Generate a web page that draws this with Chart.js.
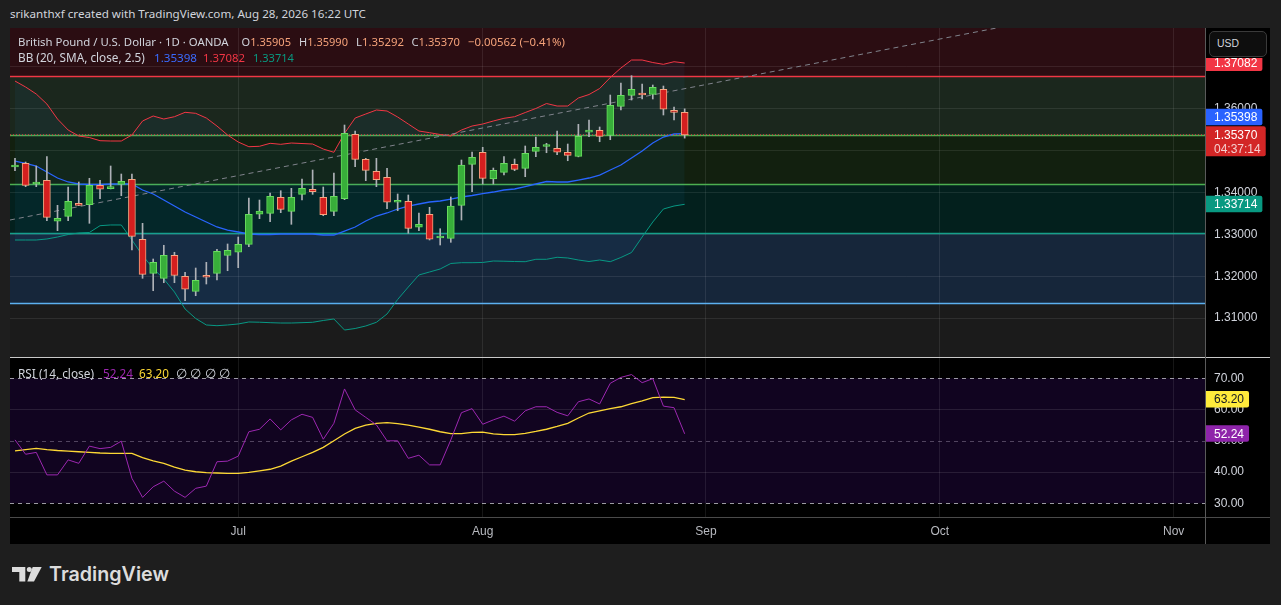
<!DOCTYPE html>
<html><head><meta charset="utf-8">
<script src="https://cdn.jsdelivr.net/npm/chart.js@4.4.1/dist/chart.umd.min.js"></script>
<style>
html,body{margin:0;padding:0;background:#1e1e1e;width:1281px;height:605px;overflow:hidden;}
#frame{position:absolute;left:10px;top:28px;width:1260px;height:516px;background:#000;}
canvas{position:absolute;}
.t{position:absolute;white-space:nowrap;line-height:1;font-family:'Noto Sans',sans-serif;color:#d1d4dc;}
.ln{position:absolute;}
</style></head><body>
<div id="frame"></div>
<canvas id="pc" width="1260" height="330" style="left:10px;top:28px;width:1260px;height:330px"></canvas>
<canvas id="rc" width="1260" height="186" style="left:10px;top:358px;width:1260px;height:186px"></canvas>
<div class="ln" style="left:10px;top:357px;width:1260px;height:1px;background:#c9c9c9"></div>
<div class="ln" style="left:10px;top:517px;width:1260px;height:1px;background:#4a4a4a"></div>
<div class="ln" style="left:1205px;top:28px;width:1px;height:516px;background:#5a5a5a"></div>
<div class="ln" style="left:1206px;top:28px;width:64px;height:30px;background:#000"></div>
<div class="ln" style="left:1209px;top:31px;width:56px;height:24px;border:1px solid #3a3a3a;border-radius:5px;background:#0e0e0e"></div>
<div class="t" data-l="1217" data-cy="44" data-w="22" style="color:#d1d4dc;font-family:'Liberation Sans',sans-serif">USD</div>

<div class="t" data-l="10" data-cy="14" data-w="356">srikanthxf created with TradingView.com, Aug 28, 2026 16:22 UTC</div>
<div class="t" data-l="18" data-cy="42" data-w="211">British Pound / U.S. Dollar · 1D · OANDA</div>
<div class="t" data-l="241.5" data-cy="42" data-w="49.5">O<span style="color:#f5a27a">1.35905</span></div>
<div class="t" data-l="299" data-cy="42" data-w="49">H<span style="color:#f5a27a">1.35990</span></div>
<div class="t" data-l="356" data-cy="42" data-w="48">L<span style="color:#f5a27a">1.35292</span></div>
<div class="t" data-l="411.5" data-cy="42" data-w="48.5">C<span style="color:#f5a27a">1.35370</span></div>
<div class="t" data-l="468" data-cy="42" data-w="97" style="color:#f5a27a">−0.00562 (−0.41%)</div>
<div class="t" data-l="18" data-cy="58" data-w="127">BB (20, SMA, close, 2.5)</div>
<div class="t" data-l="154" data-cy="58" data-w="43" style="color:#3a6bff">1.35398</div>
<div class="t" data-l="203" data-cy="58" data-w="42" style="color:#f23645">1.37082</div>
<div class="t" data-l="253" data-cy="58" data-w="41" style="color:#089981">1.33714</div>
<div class="t" data-l="18" data-cy="374" data-w="76">RSI (14, close)</div>
<div class="t" data-l="103" data-cy="374" data-w="30" style="color:#9c27b0">52.24</div>
<div class="t" data-l="139" data-cy="374" data-w="30" style="color:#fdd835">63.20</div>
<div class="t" data-l="176" data-cy="374" data-w="53">∅ ∅ ∅ ∅</div>

<svg style="position:absolute;left:12px;top:567px" width="30" height="15" viewBox="0 0 30 15">
<path d="M0 0H13.3V14.4H7.3V5H0Z" fill="#dcdcdc"/>
<circle cx="17.3" cy="2.6" r="2.5" fill="#dcdcdc"/>
<path d="M20.7 0H29.7L22 14.4H15.3Z" fill="#dcdcdc"/>
</svg>
<div class="t" data-l="49" data-cy="575" data-w="120" data-fs="20" style="font-family:Inter,sans-serif;font-weight:600;color:#dcdcdc">TradingView</div>

<script>
// ---------------- DATA ----------------
const openP  = [1.34603,1.34691,1.34198,1.34286,1.33309,1.33428,1.33738,1.33704,1.34167,1.34086,
1.34191,1.34310,1.32880,1.32069,1.31950,1.32498,1.31998,1.31640,1.32005,1.32069,
1.32498,1.32570,1.32760,1.33476,1.33499,1.33881,1.33547,1.33952,1.34072,1.33881,
1.33547,1.33847,1.35383,1.34787,1.34501,1.34358,1.33762,1.33785,1.33166,1.33476,
1.32911,1.32903,1.33690,1.34667,1.34954,1.34317,1.34477,1.34667,1.34572,1.34977,
1.35092,1.35049,1.34954,1.34858,1.35433,1.35478,1.35359,1.36050,1.36312,1.36331,
1.36336,1.36455,1.35915,1.35905];
const highP  = [1.34810,1.34722,1.34627,1.34849,1.33690,1.34126,1.34246,1.34334,1.34286,1.34627,
1.34436,1.34436,1.33261,1.32410,1.32737,1.32570,1.32093,1.32195,1.32331,1.32641,
1.32768,1.32934,1.33864,1.33816,1.33983,1.34038,1.34095,1.34317,1.34532,1.34126,
1.34460,1.35604,1.35461,1.34810,1.34810,1.34572,1.33960,1.33936,1.33507,1.33642,
1.33132,1.33888,1.34770,1.34961,1.35073,1.34579,1.34849,1.34794,1.35104,1.35318,
1.35168,1.35461,1.35151,1.35621,1.35723,1.35557,1.36319,1.36605,1.36780,1.36582,
1.36558,1.36534,1.36033,1.35990];
const lowP   = [1.34515,1.34134,1.34134,1.33323,1.33085,1.33323,1.33681,1.33261,1.33847,1.34080,
1.33919,1.32625,1.31950,1.31654,1.31845,1.31845,1.31416,1.31535,1.31814,1.31909,
1.32131,1.32203,1.32703,1.33371,1.33299,1.33514,1.33237,1.33816,1.33952,1.33442,
1.33442,1.33824,1.34610,1.34277,1.34134,1.33609,1.33561,1.33023,1.33085,1.32863,
1.32744,1.32808,1.33340,1.34014,1.34198,1.34198,1.34412,1.34515,1.34372,1.34849,
1.34944,1.34896,1.34753,1.34845,1.35325,1.35206,1.35254,1.35962,1.36200,1.36224,
1.36224,1.35843,1.35723,1.35292];
const closeP = [1.34651,1.34167,1.34246,1.33404,1.33380,1.33785,1.33690,1.34167,1.34072,1.34100,
1.34262,1.32951,1.32045,1.32331,1.32498,1.32021,1.31688,1.31902,1.31974,1.32594,
1.32617,1.32760,1.33476,1.33554,1.33905,1.33595,1.33881,1.34095,1.34014,1.33466,
1.33905,1.35406,1.34787,1.34524,1.34300,1.33762,1.33770,1.33142,1.33237,1.32880,
1.32916,1.33673,1.34651,1.34834,1.34334,1.34524,1.34691,1.34548,1.34930,1.35073,
1.35098,1.34954,1.34882,1.35335,1.35440,1.35335,1.36074,1.36312,1.36455,1.36319,
1.36503,1.35979,1.35905,1.35370];
const bbUpper = [1.36653,1.36510,1.36343,1.36105,1.35747,1.35485,1.35342,1.35306,1.35230,1.35223,
1.35223,1.35366,1.35700,1.35819,1.35747,1.35802,1.35907,1.35883,1.35771,1.35580,
1.35366,1.35199,1.35087,1.35097,1.35168,1.35144,1.35175,1.35163,1.35151,1.35032,
1.34954,1.35406,1.35771,1.35867,1.35962,1.35938,1.35795,1.35628,1.35461,1.35421,
1.35378,1.35342,1.35485,1.35580,1.35628,1.35700,1.35764,1.35802,1.35902,1.35998,
1.36117,1.36057,1.36057,1.36248,1.36331,1.36474,1.36737,1.36963,1.37154,1.37154,
1.37094,1.37051,1.37113,1.37082];
const bbMiddle = [1.34746,1.34687,1.34627,1.34484,1.34341,1.34246,1.34198,1.34186,1.34186,1.34198,
1.34198,1.34198,1.34055,1.33960,1.33816,1.33673,1.33530,1.33411,1.33292,1.33173,
1.33101,1.33054,1.33006,1.32994,1.32994,1.33006,1.33006,1.33006,1.33006,1.32982,
1.32982,1.33077,1.33173,1.33316,1.33435,1.33507,1.33602,1.33673,1.33721,1.33769,
1.33793,1.33840,1.33888,1.33924,1.33971,1.34007,1.34055,1.34079,1.34138,1.34198,
1.34257,1.34246,1.34246,1.34293,1.34341,1.34412,1.34532,1.34651,1.34818,1.34984,
1.35175,1.35318,1.35390,1.35398];
const bbLower = [1.32863,1.32863,1.32863,1.32887,1.32934,1.32994,1.33030,1.33042,1.33204,1.33221,
1.33221,1.32863,1.32493,1.32184,1.31933,1.31623,1.31218,1.30992,1.30837,1.30820,
1.30837,1.30861,1.30908,1.30903,1.30892,1.30884,1.30884,1.30892,1.30901,1.30944,
1.30980,1.30717,1.30753,1.30813,1.30901,1.31099,1.31445,1.31742,1.32029,1.32100,
1.32172,1.32303,1.32322,1.32322,1.32327,1.32362,1.32357,1.32350,1.32346,1.32403,
1.32403,1.32451,1.32434,1.32386,1.32350,1.32386,1.32346,1.32446,1.32565,1.32934,
1.33292,1.33602,1.33673,1.33714];
const rsiVals = [50.3,45.7,46.3,39.1,39.1,43.9,42.8,48.3,47.5,47.9,
49.9,38.0,31.9,35.3,37.1,33.9,31.9,34.8,35.5,43.3,
43.5,45.1,52.9,53.7,57.0,53.5,56.7,58.5,57.5,50.5,
55.6,66.6,59.9,57.5,55.1,50.0,50.0,44.4,45.4,42.3,
42.3,50.3,59.0,60.3,55.3,56.7,57.9,56.3,59.6,60.9,
60.9,59.1,58.0,62.5,63.4,61.8,68.4,70.3,71.2,68.6,
69.9,61.1,60.6,52.24];
const rsiMa = [46.8,47.2,47.6,47.2,46.9,46.7,46.5,46.3,46.1,46.0,
46.0,46.0,44.6,43.6,42.8,41.6,40.6,40.1,39.8,39.7,
39.6,39.6,39.9,40.4,40.9,41.9,43.5,44.9,46.3,47.9,
50.0,52.2,54.0,55.0,55.6,55.8,55.5,55.0,54.4,53.7,
52.9,52.3,52.3,52.7,52.8,52.2,52.0,52.0,52.4,53.0,
53.7,54.6,55.6,57.3,58.9,59.6,60.3,60.9,61.9,62.8,
63.8,64.0,63.9,63.2];
const priceTicks = [1.31,1.32,1.33,1.34,1.35,1.36,1.37];
const rsiTicks = [30,40,50,60,70];
const rsiLevels = [70,50,30];
const monthTickIdx = [21,44,65,87,109];
const monthLabels = ['Jul','Aug','Sep','Oct','Nov'];
const trendIdx = [-0.47,92.66];
const trendPrice = [1.33340,1.37933];
const lastClose = 1.35370;
const countdown = '04:37:14';
const zoneLevels = [1.3678,1.3536,1.3419,1.3302,1.3135];

// ---------------- STYLE ----------------
const X_MIN=-0.47, X_MAX=111.95, P_MIN=1.30050, P_MAX=1.37917, R_MIN=25.62, R_MAX=76.5;
const zoneFills = ['#2b0d12','#1b271d','#12200f','#03201d','#16263a','#1b1b1b'];
const zoneLineColors = ['#f23645','#4caf50','#4caf50','#16a08a','#5cb0f0'];
const UP_FILL='#38ae3a', UP_BORDER='#68dc5e', DN_FILL='#d41f1f', DN_BORDER='#f7a580', WICK='#aeb1b7';
const GRID='rgba(255,255,255,0.085)';
const AXIS_FONT="'Liberation Sans', Arial, sans-serif";
Chart.defaults.font.family = AXIS_FONT;

// text fitting
document.querySelectorAll('.t').forEach(el=>{
  const fs0 = +(el.dataset.fs||12);
  el.style.fontSize = fs0+'px';
  const w = el.getBoundingClientRect().width;
  const fs = fs0*(+el.dataset.w)/w;
  el.style.fontSize = fs+'px';
  el.style.left = el.dataset.l+'px';
  el.style.top = (+el.dataset.cy - fs*0.52)+'px';
});

const idx = openP.map((_,i)=>i);
const up = idx.map(i=>closeP[i]>=openP[i]);
const pts = arr => arr.map((v,i)=>({x:i,y:v}));

function zeroPad(s){ s.paddingLeft=0; s.paddingRight=0; s.paddingTop=0; s.paddingBottom=0; }

function badge(ctx, a, yc, bg, text, fg, extra){
  ctx.save();
  ctx.font = '12px '+AXIS_FONT;
  const lines = [text].concat(extra? [extra]:[]);
  const w = Math.max(...lines.map(l=>ctx.measureText(l).width)) + 13;
  const top = yc - 8.5, h = extra ? 30 : 16.5;
  ctx.fillStyle = bg;
  ctx.beginPath();
  if (ctx.roundRect) ctx.roundRect(a.right+1, top, w, h, [0,2,2,0]); else ctx.rect(a.right+1, top, w, h);
  ctx.fill();
  ctx.textBaseline = 'middle';
  ctx.fillStyle = fg;
  ctx.fillText(text, a.right+9, yc+0.5);
  if (extra){ ctx.fillStyle = 'rgba(255,255,255,0.78)'; ctx.fillText(extra, a.right+9, yc+15); }
  ctx.restore();
  return {top, bottom: top+h};
}

const pricePlugin = {
  id:'pz',
  beforeDraw(c){
    const {ctx, chartArea:a, scales:{y}} = c;
    const b = [P_MAX, ...zoneLevels, P_MIN];
    ctx.save();
    for (let k=0;k<zoneFills.length;k++){
      const y0 = y.getPixelForValue(b[k]), y1 = y.getPixelForValue(b[k+1]);
      ctx.fillStyle = zoneFills[k];
      ctx.fillRect(a.left, y0, a.right-a.left, y1-y0);
    }
    ctx.restore();
  },
  beforeDatasetsDraw(c){
    const {ctx, chartArea:a, scales:{y}} = c;
    ctx.save();
    ctx.lineWidth = 1.3;
    zoneLevels.forEach((v,k)=>{
      const py = Math.round(y.getPixelForValue(v))+0.5;
      ctx.strokeStyle = zoneLineColors[k];
      ctx.beginPath(); ctx.moveTo(a.left, py); ctx.lineTo(a.right, py); ctx.stroke();
    });
    ctx.restore();
  },
  afterDraw(c){
    const {ctx, chartArea:a, scales:{y}} = c;
    const n = closeP.length-1;
    badge(ctx, a, y.getPixelForValue(bbUpper[n]), '#f23645', bbUpper[n].toFixed(5), '#fff');
    const red = badge(ctx, a, y.getPixelForValue(lastClose), '#d32626', lastClose.toFixed(5), '#fff', countdown);
    badge(ctx, a, red.top - 1 - 8, '#2962ff', bbMiddle[n].toFixed(5), '#fff');
    badge(ctx, a, y.getPixelForValue(bbLower[n]), '#089981', bbLower[n].toFixed(5), '#fff');
  }
};

const BBFILL = 'rgba(33,150,243,0.06)';
const lineBase = {type:'line', pointRadius:0, borderWidth:1, tension:0, fill:false};

new Chart(document.getElementById('pc'), {
  type:'bar',
  data:{datasets:[
    {type:'bar', data: idx.map(i=>({x:i, y:[openP[i], closeP[i]]})),
     backgroundColor: up.map(u=>u?UP_FILL:DN_FILL), borderColor: up.map(u=>u?UP_BORDER:DN_BORDER),
     borderWidth:1, borderSkipped:false, barThickness:7, minBarLength:2, grouped:false, order:0},
    {type:'bar', data: idx.map(i=>({x:i, y:[lowP[i], highP[i]]})),
     backgroundColor: WICK, borderWidth:0, barThickness:1, grouped:false, order:1},
    {...lineBase, data: pts(bbUpper), borderColor:'#f23645', fill:{target:4, above:BBFILL, below:BBFILL}, order:3},
    {...lineBase, data: pts(bbMiddle), borderColor:'#2962ff', borderWidth:1.3, order:3},
    {...lineBase, data: pts(bbLower), borderColor:'#089981', order:3},
    {...lineBase, data: trendIdx.map((x,k)=>({x, y:trendPrice[k]})), borderColor:'#80838c', borderDash:[5,4], order:2},
    {...lineBase, data: [{x:X_MIN,y:lastClose},{x:X_MAX,y:lastClose}], borderColor:'#f23645', borderDash:[1,2], order:2}
  ]},
  options:{
    responsive:false, animation:false, events:[],
    layout:{padding:0},
    plugins:{legend:{display:false}, tooltip:{enabled:false}},
    scales:{
      x:{type:'linear', min:X_MIN, max:X_MAX, offset:false,
         grid:{color:GRID, drawTicks:false, offset:false}, border:{display:false},
         ticks:{display:false},
         afterBuildTicks:s=>{ s.ticks = monthTickIdx.map(v=>({value:v})); },
         afterFit:s=>{ s.height=0; zeroPad(s); }},
      y:{type:'linear', position:'right', min:P_MIN, max:P_MAX,
         grid:{color:GRID, drawTicks:false}, border:{display:false},
         ticks:{padding:9, color:'#d1d4dc', font:{size:12}, callback:v=>Number(v).toFixed(5)},
         afterBuildTicks:s=>{ s.ticks = priceTicks.map(v=>({value:v})); },
         afterFit:s=>{ s.width=65; zeroPad(s); }}
    }
  },
  plugins:[pricePlugin]
});

const rsiPlugin = {
  id:'rz',
  beforeDraw(c){
    const {ctx, chartArea:a, scales:{y}} = c;
    const y0 = y.getPixelForValue(rsiLevels[0]), y1 = y.getPixelForValue(rsiLevels[2]);
    ctx.save(); ctx.fillStyle = '#110420'; ctx.fillRect(a.left, y0, a.right-a.left, y1-y0); ctx.restore();
  },
  beforeDatasetsDraw(c){
    const {ctx, chartArea:a, scales:{y}} = c;
    ctx.save(); ctx.lineWidth = 1; ctx.setLineDash([4,4]);
    rsiLevels.forEach((v,k)=>{
      const py = Math.round(y.getPixelForValue(v))+0.5;
      ctx.strokeStyle = k===1 ? 'rgba(200,190,215,0.35)' : 'rgba(220,220,225,0.7)';
      ctx.beginPath(); ctx.moveTo(a.left, py); ctx.lineTo(a.right, py); ctx.stroke();
    });
    ctx.restore();
  },
  afterDraw(c){
    const {ctx, chartArea:a, scales:{y}} = c;
    const n = rsiVals.length-1;
    badge(ctx, a, y.getPixelForValue(rsiMa[n]), '#ffeb3b', rsiMa[n].toFixed(2), '#131722');
    badge(ctx, a, y.getPixelForValue(rsiVals[n]), '#8e24aa', rsiVals[n].toFixed(2), '#fff');
  }
};

new Chart(document.getElementById('rc'), {
  type:'line',
  data:{datasets:[
    {...lineBase, data: pts(rsiVals), borderColor:'#9c27b0', order:0},
    {...lineBase, data: pts(rsiMa), borderColor:'#fdd835', borderWidth:1.3, order:1}
  ]},
  options:{
    responsive:false, animation:false, events:[],
    layout:{padding:0},
    plugins:{legend:{display:false}, tooltip:{enabled:false}},
    scales:{
      x:{type:'linear', min:X_MIN, max:X_MAX, offset:false,
         grid:{color:GRID, drawTicks:false}, border:{display:false},
         ticks:{padding:7, color:'#b8bac0', font:{size:12}, autoSkip:false, maxRotation:0,
                callback:v=>monthLabels[monthTickIdx.indexOf(v)]},
         afterBuildTicks:s=>{ s.ticks = monthTickIdx.map(v=>({value:v})); },
         afterFit:s=>{ s.height=27; zeroPad(s); }},
      y:{type:'linear', position:'right', min:R_MIN, max:R_MAX,
         grid:{color:ctx=> (ctx.tick && (ctx.tick.value===40 || ctx.tick.value===60)) ? 'rgba(255,255,255,0.1)' : 'rgba(0,0,0,0)', drawTicks:false},
         border:{display:false},
         ticks:{padding:9, color:'#d1d4dc', font:{size:12}, callback:v=>Number(v).toFixed(2)},
         afterBuildTicks:s=>{ s.ticks = rsiTicks.map(v=>({value:v})); },
         afterFit:s=>{ s.width=65; zeroPad(s); }}
    }
  },
  plugins:[rsiPlugin]
});
</script>
</body></html>
